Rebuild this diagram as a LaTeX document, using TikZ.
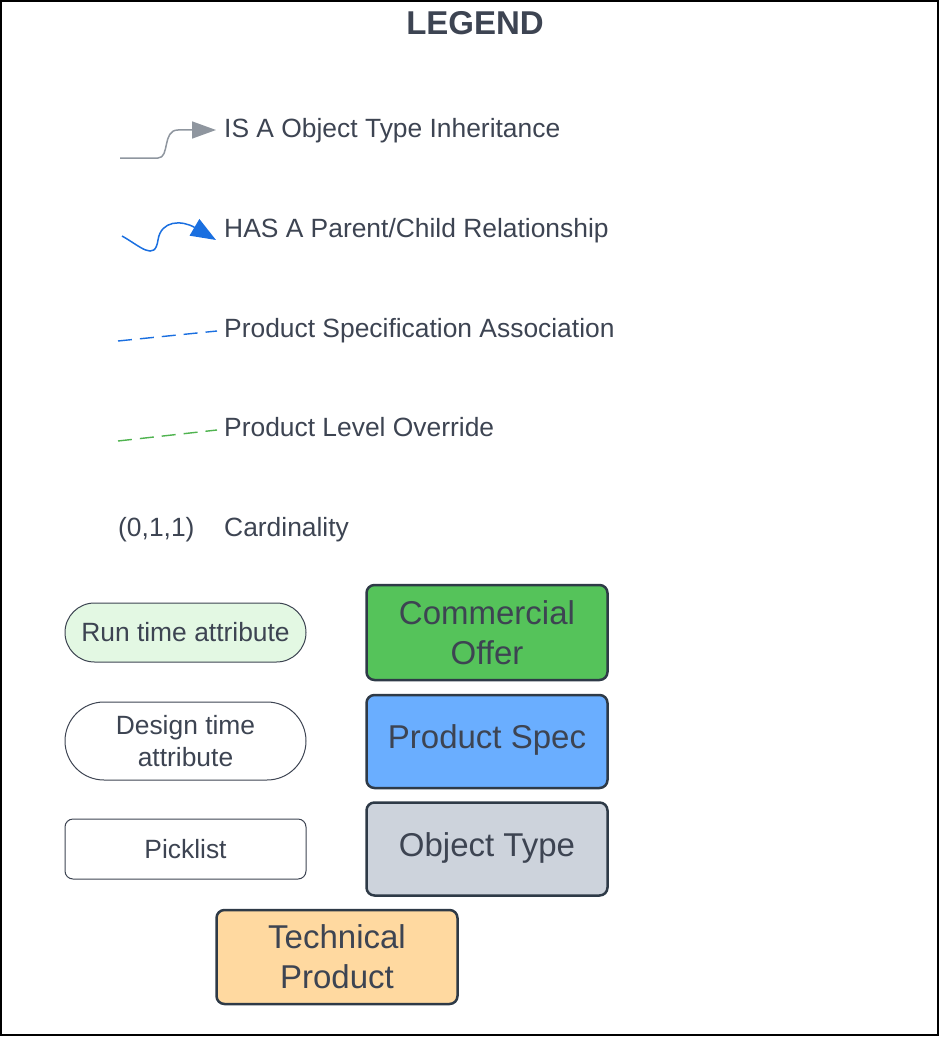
\documentclass[tikz,border=0pt]{standalone}
\usepackage{fontspec}
\setmainfont{Liberation Sans}
\usetikzlibrary{arrows.meta}
\definecolor{txt}{HTML}{3D4452}
\definecolor{edge}{HTML}{2E3A47}
\definecolor{isagray}{HTML}{8F969F}
\definecolor{hasblue}{HTML}{1A6FE0}
\definecolor{dashgreen}{HTML}{4FB34F}
\definecolor{rungreen}{HTML}{E3F8E3}
\definecolor{cogreen}{HTML}{55C35A}
\definecolor{psblue}{HTML}{6AAEFF}
\definecolor{otgray}{HTML}{CDD3DC}
\definecolor{tporange}{HTML}{FFD9A0}
\tikzset{
  legtext/.style={anchor=base west,inner sep=0pt,text=txt,font=\fontsize{26.4}{30}\selectfont},
  smallshape/.style={draw=txt,line width=1pt,text=txt,minimum width=241pt,align=center,font=\fontsize{26.4}{32}\selectfont,inner sep=0pt},
  bigbox/.style={draw=edge,line width=2.5pt,rounded corners=8pt,text=txt,minimum width=241pt,minimum height=93pt,align=center,font=\fontsize{33}{40}\selectfont,inner sep=0pt},
}
\begin{document}
\begin{tikzpicture}[x=1pt,y=-1pt]
\useasboundingbox (0,0) rectangle (942,1038);
\draw[black,line width=1.5pt] (1,1) rectangle (938,1035);
\node[anchor=center,text=txt,font=\bfseries\fontsize{33}{36}\selectfont,inner sep=0pt] (title) at (475,23) {LEGEND};

% IS A
\coordinate (isa0) at (120,158);
\coordinate (isa1) at (216,130);
\draw[isagray,line width=1.5pt,-{Triangle[length=24pt,width=17pt]}] (isa0) -- (158,158) .. controls (170,158) and (162,130) .. (178,130) -- (isa1);
\node[legtext] (isat) at (224,138) {IS A Object Type Inheritance};

% HAS A
\coordinate (has0) at (122,236);
\coordinate (has1) at (216,240);
\draw[hasblue,line width=1.5pt,-{Triangle[length=25pt,width=19pt]}] (has0) .. controls (140,246) and (155,262) .. (158,240) .. controls (161,220) and (182,220) .. (has1);
\node[legtext] (hast) at (224,237) {HAS A Parent/Child Relationship};

% Product spec association
\coordinate (ps0) at (118,341);
\coordinate (ps1) at (217,331);
\draw[hasblue,line width=1.4pt,dash pattern=on 14pt off 8pt] (ps0) -- (ps1);
\node[legtext] (pst) at (224,337) {Product Specification Association};

% Product level override
\coordinate (po0) at (118,441);
\coordinate (po1) at (217,430);
\draw[dashgreen,line width=1.4pt,dash pattern=on 14pt off 8pt] (po0) -- (po1);
\node[legtext] (pot) at (224,436) {Product Level Override};

% Cardinality
\node[legtext] (card) at (118,536) {(0,1,1)};
\node[legtext] (cardt) at (224,536) {Cardinality};

% shapes
\node[smallshape,fill=rungreen,minimum height=59pt,rounded corners=29.5pt] (run) at (185.5,632.5) {Run time attribute};
\node[smallshape,fill=white,minimum height=78pt,rounded corners=39pt] (design) at (185.5,741) {Design time\\attribute};
\node[smallshape,fill=white,minimum height=60pt,rounded corners=8pt] (pick) at (185.5,849) {Picklist};

\node[bigbox,fill=cogreen,minimum height=95pt] (co) at (487,632.5) {Commercial\\Offer};
\node[bigbox,fill=psblue] (ps) at (487,741.5) {};
\node[text=txt,font=\fontsize{33}{40}\selectfont,inner sep=0pt] (pslabel) at (487,740) {Product Spec};
\node[bigbox,fill=otgray] (ot) at (487,849) {};
\node[text=txt,font=\fontsize{33}{40}\selectfont,inner sep=0pt] (otlabel) at (487,848) {Object Type};
\node[bigbox,fill=tporange,minimum height=94pt] (tp) at (337,957) {Technical\\Product};
\end{tikzpicture}
\end{document}
